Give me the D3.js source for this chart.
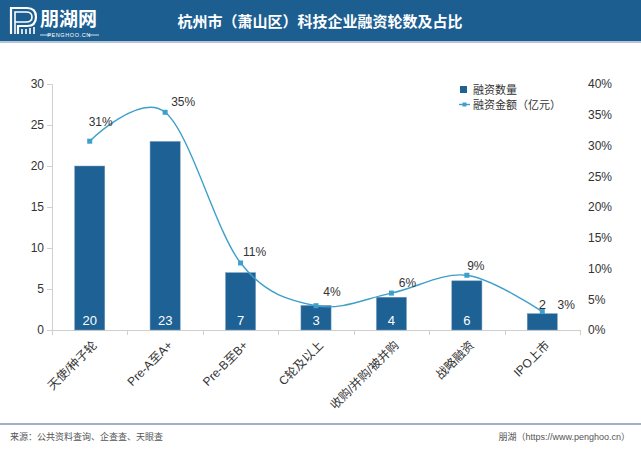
<!DOCTYPE html>
<html><head><meta charset="utf-8">
<script src="https://cdn.jsdelivr.net/npm/d3@7"></script>
<style>
body{margin:0;background:#fff;}
svg{display:block;font-family:"Liberation Sans","Noto Sans CJK SC",sans-serif;}
</style></head>
<body>
<svg id="c" width="641" height="449"></svg>
<script>
const categories = ["天使/种子轮","Pre-A至A+","Pre-B至B+","C轮及以上","收购/并购/被并购","战略融资","IPO上市"];
const counts = [20,23,7,3,4,6,2];
const amountShare = [0.307,0.354,0.109,0.0395,0.060,0.089,0.030];
const shareLabels = ["31%","35%","11%","4%","6%","9%","3%"];
const leftTicks = [0,5,10,15,20,25,30];
const rightTicks = [0,0.05,0.10,0.15,0.20,0.25,0.30,0.35,0.40];
const labelOffsets = [[11,-15],[18,-6],[14,-7],[16,-10],[16,-6],[9,-5],[24,-3]];

const svg = d3.select("#c");
const barColor = "#1e6195", lineColor = "#3e9fcb";

// header
svg.append("rect").attr("x",0).attr("y",0).attr("width",641).attr("height",41).attr("fill","#1d5e91");
svg.append("rect").attr("x",0).attr("y",41).attr("width",641).attr("height",2).attr("fill","#b4c4d4");
// logo
const lg = svg.append("g").attr("fill","none").attr("stroke","#fff");
lg.append("path").attr("d","M11,34 V8 H27 Q36,8 36,17 Q36,26 27,26 H18 V34").attr("stroke-width",2.2);
lg.append("path").attr("d","M15,34 V12 H26 Q32,12 32,17 Q32,22 26,22 H15").attr("stroke-width",1.6);
lg.append("path").attr("d","M22,34 V29 M26,34 V29 M30,34 V28 M34,34 V27").attr("stroke-width",1.6);
svg.append("text").attr("x",40).attr("y",26).attr("fill","#fff").attr("font-size",19).attr("font-weight","bold")
  .attr("font-family","Noto Sans CJK SC").text("朋湖网");
svg.append("text").attr("x",69).attr("y",37).attr("fill","#fff").attr("font-size",5.5).attr("text-anchor","middle").attr("letter-spacing",0.6).text("PENGHOO.CN");
svg.append("line").attr("x1",40).attr("x2",51).attr("y1",35).attr("y2",35).attr("stroke","#fff").attr("stroke-width",0.8);
svg.append("line").attr("x1",88).attr("x2",99).attr("y1",35).attr("y2",35).attr("stroke","#fff").attr("stroke-width",0.8);
svg.append("text").attr("x",320).attr("y",27).attr("fill","#fff").attr("font-size",15).attr("font-weight","bold")
  .attr("text-anchor","middle").attr("font-family","Noto Sans CJK SC").text("杭州市（萧山区）科技企业融资轮数及占比");

// scales
const x = d3.scaleBand().domain(categories).range([52,580]).paddingInner(0.6).paddingOuter(0.3);
const y = d3.scaleLinear().domain([0,30]).range([330,84]);
const y2 = d3.scaleLinear().domain([0,0.40]).range([330,84]);

// left axis
const la = svg.append("g").attr("transform","translate(52,0)")
  .call(d3.axisLeft(y).tickValues(leftTicks).tickSize(5).tickPadding(3));
la.select(".domain").attr("stroke","#cfcfcf");
la.selectAll(".tick line").attr("stroke","#cfcfcf");
la.selectAll("text").attr("font-size",12).attr("fill","#333").attr("font-family","Liberation Sans");

// right axis
const ra = svg.append("g").attr("transform","translate(580,0)")
  .call(d3.axisRight(y2).tickValues(rightTicks).tickFormat(d3.format(".0%")).tickSize(0).tickPadding(8));
ra.select(".domain").remove();
ra.selectAll("text").attr("font-size",12).attr("fill","#333").attr("font-family","Liberation Sans");

// bottom axis
const bx = svg.append("g");
bx.append("line").attr("x1",52).attr("x2",580).attr("y1",330.5).attr("y2",330.5).attr("stroke","#cfcfcf");
const boundaries = d3.range(categories.length+1).map(i => 52 + i*(528/categories.length));
bx.selectAll("line.tk").data(boundaries).join("line").attr("class","tk")
  .attr("x1",d=>Math.round(d)+0.5).attr("x2",d=>Math.round(d)+0.5).attr("y1",330).attr("y2",335).attr("stroke","#cfcfcf");
bx.selectAll("text").data(categories).join("text")
  .attr("transform",d=>`translate(${x(d)+x.bandwidth()/2+2},340) rotate(-45)`)
  .attr("text-anchor","end").attr("dy","0.7em").attr("font-size",12).attr("fill","#333").text(d=>d);

// bars
svg.selectAll("rect.bar").data(categories).join("rect").attr("class","bar")
  .attr("x",d=>x(d)).attr("width",x.bandwidth())
  .attr("y",(d,i)=>y(counts[i])).attr("height",(d,i)=>y(0)-y(counts[i]))
  .attr("fill",barColor).attr("stroke","#7fa3c1").attr("stroke-width",0.5);
svg.selectAll("text.bv").data(categories).join("text").attr("class","bv")
  .attr("x",d=>x(d)+x.bandwidth()/2)
  .attr("y",(d,i)=> counts[i] > 2 ? 325 : y(counts[i]) - 5)
  .attr("text-anchor","middle").attr("font-size",13)
  .attr("fill",(d,i)=> counts[i] > 2 ? "#fff" : "#333").text((d,i)=>counts[i]);

// line
const pts = categories.map((c,i)=>[x(c)+x.bandwidth()/2, y2(amountShare[i])]);
svg.append("path").attr("d",d3.line().curve(d3.curveCardinal.tension(0))(pts))
  .attr("fill","none").attr("stroke",lineColor).attr("stroke-width",1.4);
svg.selectAll("rect.mk").data(pts).join("rect").attr("class","mk")
  .attr("x",d=>d[0]-2.5).attr("y",d=>d[1]-2.5).attr("width",5).attr("height",5).attr("fill",lineColor);
svg.selectAll("text.pl").data(pts).join("text").attr("class","pl")
  .attr("x",(d,i)=>d[0]+labelOffsets[i][0]).attr("y",(d,i)=>d[1]+labelOffsets[i][1])
  .attr("text-anchor","middle").attr("font-size",12).attr("fill","#333").text((d,i)=>shareLabels[i]);

// legend
svg.append("rect").attr("x",460).attr("y",86).attr("width",7).attr("height",7).attr("fill",barColor);
svg.append("text").attr("x",473).attr("y",94).attr("font-size",11).attr("fill","#333").text("融资数量");
svg.append("line").attr("x1",459).attr("x2",470).attr("y1",104.5).attr("y2",104.5).attr("stroke",lineColor).attr("stroke-width",1.4);
svg.append("rect").attr("x",462.5).attr("y",102.5).attr("width",4).attr("height",4).attr("fill",lineColor);
svg.append("text").attr("x",473).attr("y",109).attr("font-size",11).attr("fill","#333").text("融资金额（亿元）");

// footer
svg.append("rect").attr("x",0).attr("y",423).attr("width",641).attr("height",2).attr("fill","#9fb3c8");
svg.append("text").attr("x",10).attr("y",440).attr("font-size",9).attr("fill","#555").text("来源：公共资料查询、企查查、天眼查");
svg.append("text").attr("x",630).attr("y",440).attr("font-size",9).attr("fill","#555").attr("text-anchor","end").text("朋湖（https://www.penghoo.cn）");
</script>
</body></html>
